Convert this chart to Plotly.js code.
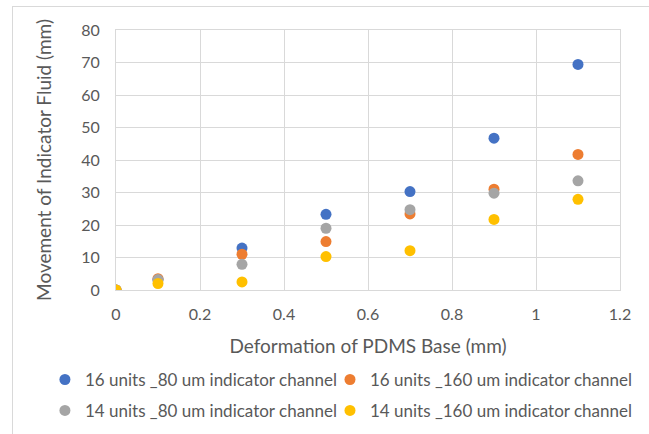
<!DOCTYPE html>
<html>
<head>
<meta charset="utf-8">
<script src="https://cdn.plot.ly/plotly-3.0.1.min.js"></script>
<style>
  html, body { margin: 0; padding: 0; background: #fff; }
  #wrap { position: relative; width: 649px; height: 434px; overflow: hidden; }
  #frame { position: absolute; left: 12px; top: 6px; width: 640px; height: 440px; border: 1px solid #d9d9d9; box-sizing: border-box; pointer-events: none; }
  #chart { position: absolute; left: 0; top: 0; width: 649px; height: 434px; }
</style>
</head>
<body>
<div id="wrap">
  <div id="chart"></div>
  <div id="frame"></div>
</div>
<script>
const deformation = [0, 0.1, 0.3, 0.5, 0.7, 0.9, 1.1];
const s16_80  = [0, 3.2, 12.9, 23.3, 30.3, 46.7, 69.4];
const s16_160 = [0, 3.5, 11.0, 14.9, 23.4, 31.0, 41.7];
const s14_80  = [0, 3.2, 7.9, 19.0, 24.7, 29.8, 33.6];
const s14_160 = [0, 2.0, 2.5, 10.3, 12.1, 21.7, 27.9];
const seriesNames = [
  "16 units _80 um indicator channel",
  "16 units _160 um indicator channel",
  "14 units _80 um indicator channel",
  "14 units _160 um indicator channel"
];
const colors = ["#4472C4", "#ED7D31", "#A5A5A5", "#FFC000"];
const values = [s16_80, s16_160, s14_80, s14_160];
const legendIds = ["legend", "legend2", "legend3", "legend4"];

const FONT = "Lato, 'Open Sans', sans-serif";
const data = values.map((v, i) => ({
  type: "scatter",
  mode: "markers",
  x: deformation,
  y: v,
  name: seriesNames[i],
  legend: legendIds[i],
  marker: { color: colors[i], size: 11 },
  hoverinfo: "x+y+name"
}));

function legendAt(x, y) {
  return {
    orientation: "h",
    xanchor: "left",
    yanchor: "middle",
    x: x,
    y: y,
    font: { family: FONT, size: 17, color: "#595959" },
    bgcolor: "rgba(0,0,0,0)",
    itemclick: false,
    itemdoubleclick: false
  };
}

const layout = {
  width: 649,
  height: 434,
  margin: { l: 116, r: 29, t: 30, b: 144, autoexpand: false },
  paper_bgcolor: "rgba(0,0,0,0)",
  plot_bgcolor: "#ffffff",
  font: { family: FONT, color: "#595959", size: 16 },
  showlegend: true,
  xaxis: {
    range: [0, 1.2],
    dtick: 0.2,
    tick0: 0,
    showgrid: true,
    gridcolor: "#d9d9d9",
    gridwidth: 1,
    zeroline: false,
    showline: true,
    mirror: true,
    linecolor: "#d9d9d9",
    linewidth: 1,
    ticks: "outside",
    ticklen: 10,
    tickcolor: "rgba(0,0,0,0)",
    tickfont: { family: FONT, size: 16, color: "#595959" },
    title: { text: "Deformation of PDMS Base (mm)", font: { family: FONT, size: 19, color: "#595959" }, standoff: 17 }
  },
  yaxis: {
    range: [0, 80],
    dtick: 10,
    tick0: 0,
    showgrid: true,
    gridcolor: "#d9d9d9",
    gridwidth: 1,
    zeroline: false,
    showline: true,
    mirror: true,
    linecolor: "#d9d9d9",
    linewidth: 1,
    ticks: "outside",
    ticklen: 12,
    tickcolor: "rgba(0,0,0,0)",
    tickfont: { family: FONT, size: 16, color: "#595959" },
    title: { text: "Movement of Indicator Fluid (mm)", font: { family: FONT, size: 19, color: "#595959" }, standoff: 24 }
  },
  legend:  legendAt(-0.141, -0.346),
  legend2: legendAt(0.4246, -0.346),
  legend3: legendAt(-0.141, -0.465),
  legend4: legendAt(0.4246, -0.465)
};

Plotly.newPlot("chart", data, layout, { displayModeBar: false });
</script>
</body>
</html>
